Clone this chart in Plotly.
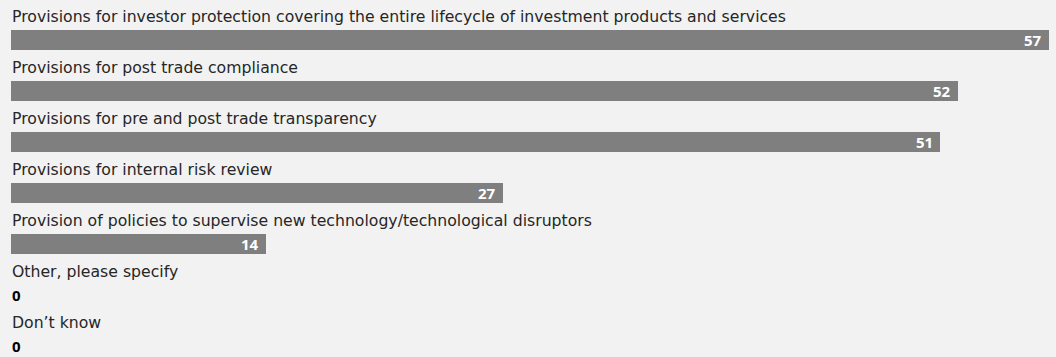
import plotly.graph_objects as go

categories = [
    "Provisions for investor protection covering the entire lifecycle of investment products and services",
    "Provisions for post trade compliance",
    "Provisions for pre and post trade transparency",
    "Provisions for internal risk review",
    "Provision of policies to supervise new technology/technological disruptors",
    "Other, please specify",
    "Don\u2019t know",
]
values = [57, 52, 51, 27, 14, 0, 0]

BG = "#f2f2f2"
BAR = "#7f7f7f"
TEXT = "#262626"
LABEL_FONT = "'DejaVu Sans', sans-serif"
VALUE_FONT = "'Open Sans', 'Liberation Sans', sans-serif"

rows = list(range(len(categories)))

fig = go.Figure(
    go.Bar(
        x=values,
        y=rows,
        orientation="h",
        width=0.41,
        marker=dict(color=BAR, line=dict(width=0)),
        hoverinfo="skip",
    )
)

annotations = []
for i, (cat, v) in enumerate(zip(categories, values)):
    # category label sits above its bar
    annotations.append(dict(
        x=0, y=i, xref="x", yref="y", text=cat, showarrow=False,
        xanchor="left", yanchor="middle", yshift=23, xshift=-1,
        font=dict(family=LABEL_FONT, size=15.7, color=TEXT),
    ))
    # value label: inside the bar end, or at the origin for empty bars
    if v > 0:
        annotations.append(dict(
            x=v, y=i, xref="x", yref="y", text=f"<b>{v}</b>", showarrow=False,
            xanchor="right", yanchor="middle", xshift=-5,
            font=dict(family=VALUE_FONT, size=15, color="white"),
        ))
    else:
        annotations.append(dict(
            x=0, y=i, xref="x", yref="y", text=f"<b>{v}</b>", showarrow=False,
            xanchor="left", yanchor="middle", xshift=-1,
            font=dict(family=VALUE_FONT, size=15, color="black"),
        ))

fig.update_layout(
    width=1056, height=357,
    margin=dict(l=11, r=7, t=0, b=0),
    paper_bgcolor=BG, plot_bgcolor=BG,
    showlegend=False,
    bargap=0,
    xaxis=dict(range=[0, 57], visible=False, fixedrange=True),
    yaxis=dict(range=[6.216, -0.784], visible=False, fixedrange=True),
    annotations=annotations,
)

fig.write_html("out.html", config={"displayModeBar": False})
